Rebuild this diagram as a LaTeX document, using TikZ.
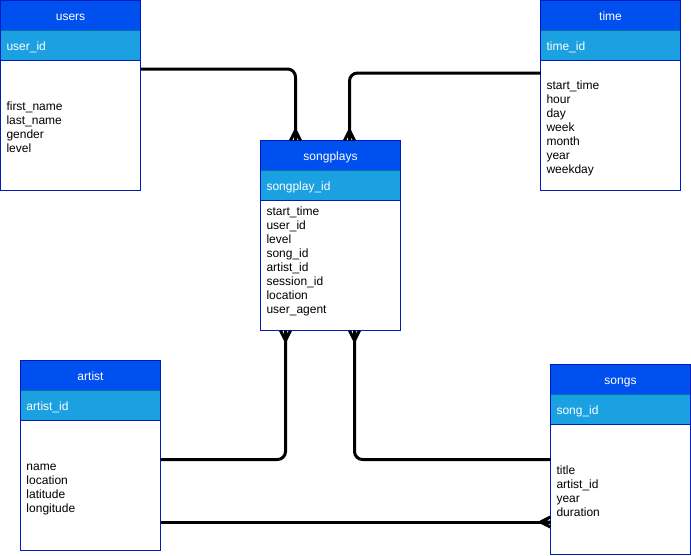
\documentclass[tikz,border=0pt]{standalone}
\usepackage{fontspec}
\setmainfont{Liberation Sans}
\usetikzlibrary{calc}

\definecolor{hdrfill}{HTML}{0050EF}
\definecolor{frame}{HTML}{001DBC}
\definecolor{keyfill}{HTML}{1BA1E2}
\definecolor{keyline}{HTML}{006EAF}

% one line box of 14pt: 11.16pt above the baseline, 2.84pt below
\newcommand\ls{\rule[-2.84pt]{0pt}{14pt}}

\tikzset{
  cell/.style={anchor=north west, minimum width=140pt, text width=128pt,
    inner xsep=6pt, inner ysep=0pt, outer sep=0pt, line width=1pt,
    text height=11.9pt, text depth=2.1pt,
    font=\fontsize{12}{14}\selectfont},
  headcell/.style={cell, minimum height=30pt, fill=hdrfill, draw=frame,
    text=white, align=center},
  keycell/.style={cell, minimum height=30pt, fill=keyfill, draw=keyline,
    text=white, align=left},
  bodycell/.style={cell, minimum height=130pt, fill=white, draw=frame},
  tableframe/.style={draw=frame, line width=1pt},
  fields/.style={inner sep=0pt, outer sep=0pt, align=left,
    font=\fontsize{12}{14}\selectfont},
  conn/.style={draw=black, line width=3pt, rounded corners=8pt},
  crow/.pic={
    \draw[black, line width=3pt]
      (-10,0) -- (0,0)
      (-10,0) -- (0,5)
      (-10,0) -- (0,-5);
  }
}

% entity table: name, top-left corner, title, primary key
\newcommand\ertable[4]{%
  \node[headcell] (#1-head) at (#2) {#3};
  \node[keycell] (#1-key) at (#1-head.south west) {#4};
  \node[bodycell] (#1-body) at (#1-key.south west) {};
  \draw[tableframe] (#1-head.north west) rectangle (#1-body.south east);
}

\begin{document}
\begin{tikzpicture}[x=1pt, y=-1pt]
  \useasboundingbox[fill=white] (0,0) rectangle (691,555);

  % tables
  \ertable{users}{0.5,0.5}{users}{user\_id}
  \ertable{time}{540.5,0.5}{time}{time\_id}
  \ertable{songplays}{260.5,140.5}{songplays}{songplay\_id}
  \ertable{artist}{20.5,360.5}{artist}{artist\_id}
  \ertable{songs}{550.5,364.5}{songs}{song\_id}

  % column lists
  \node[fields, anchor=west] (users-fields) at ($(users-body.west)+(6,1.5)$)
    {\ls first\_name\\ \ls last\_name\\ \ls gender\\ \ls level};
  \node[fields, anchor=west] (time-fields) at ($(time-body.west)+(6,1.5)$)
    {\ls start\_time\\ \ls hour\\ \ls day\\ \ls week\\ \ls month\\ \ls year\\ \ls weekday};
  \node[fields, anchor=north west] (songplays-fields)
    at ($(songplays-body.north west)+(6,3.5)$)
    {\ls start\_time\\ \ls user\_id\\ \ls level\\ \ls song\_id\\ \ls artist\_id\\
     \ls session\_id\\ \ls location\\ \ls user\_agent};
  \node[fields, anchor=west] (artist-fields) at ($(artist-body.west)+(6,1.5)$)
    {\ls name\\ \ls location\\ \ls latitude\\ \ls longitude};
  \node[fields, anchor=west] (songs-fields) at ($(songs-body.west)+(6,1.5)$)
    {\ls title\\ \ls artist\_id\\ \ls year\\ \ls duration};

  % relationship ends
  \coordinate (sp-top-l) at ($(songplays-head.north)+(-35,0)$);
  \coordinate (sp-top-r) at ($(songplays-head.north)+(19,0)$);
  \coordinate (sp-bot-l) at ($(songplays-body.south)+(-45,0)$);
  \coordinate (sp-bot-r) at ($(songplays-body.south)+(24,0)$);
  \coordinate (users-out) at ($(users-body.north east)+(0,8.5)$);
  \coordinate (time-out) at ($(time-body.north west)+(0,12.5)$);
  \coordinate (artist-out) at ($(artist-body.north east)+(0,39)$);
  \coordinate (songs-out) at ($(songs-body.north west)+(0,35)$);
  \coordinate (artist-low) at ($(artist-body.south east)+(0,-28.5)$);
  \coordinate (songs-in) at (artist-low -| songs-body.west);

  % connectors
  \draw[conn] (users-out) -| (sp-top-l);
  \draw[conn] (time-out) -| (sp-top-r);
  \draw[conn] (artist-out) -| (sp-bot-l);
  \draw[conn] (songs-out) -| (sp-bot-r);
  \draw[conn] (artist-low) -- (songs-in);

  % crow's feet on the "many" side
  \pic[rotate=-90] at (sp-top-l) {crow};
  \pic[rotate=-90] at (sp-top-r) {crow};
  \pic[rotate=90] at (sp-bot-l) {crow};
  \pic[rotate=90] at (sp-bot-r) {crow};
  \pic at (songs-in) {crow};
\end{tikzpicture}
\end{document}
